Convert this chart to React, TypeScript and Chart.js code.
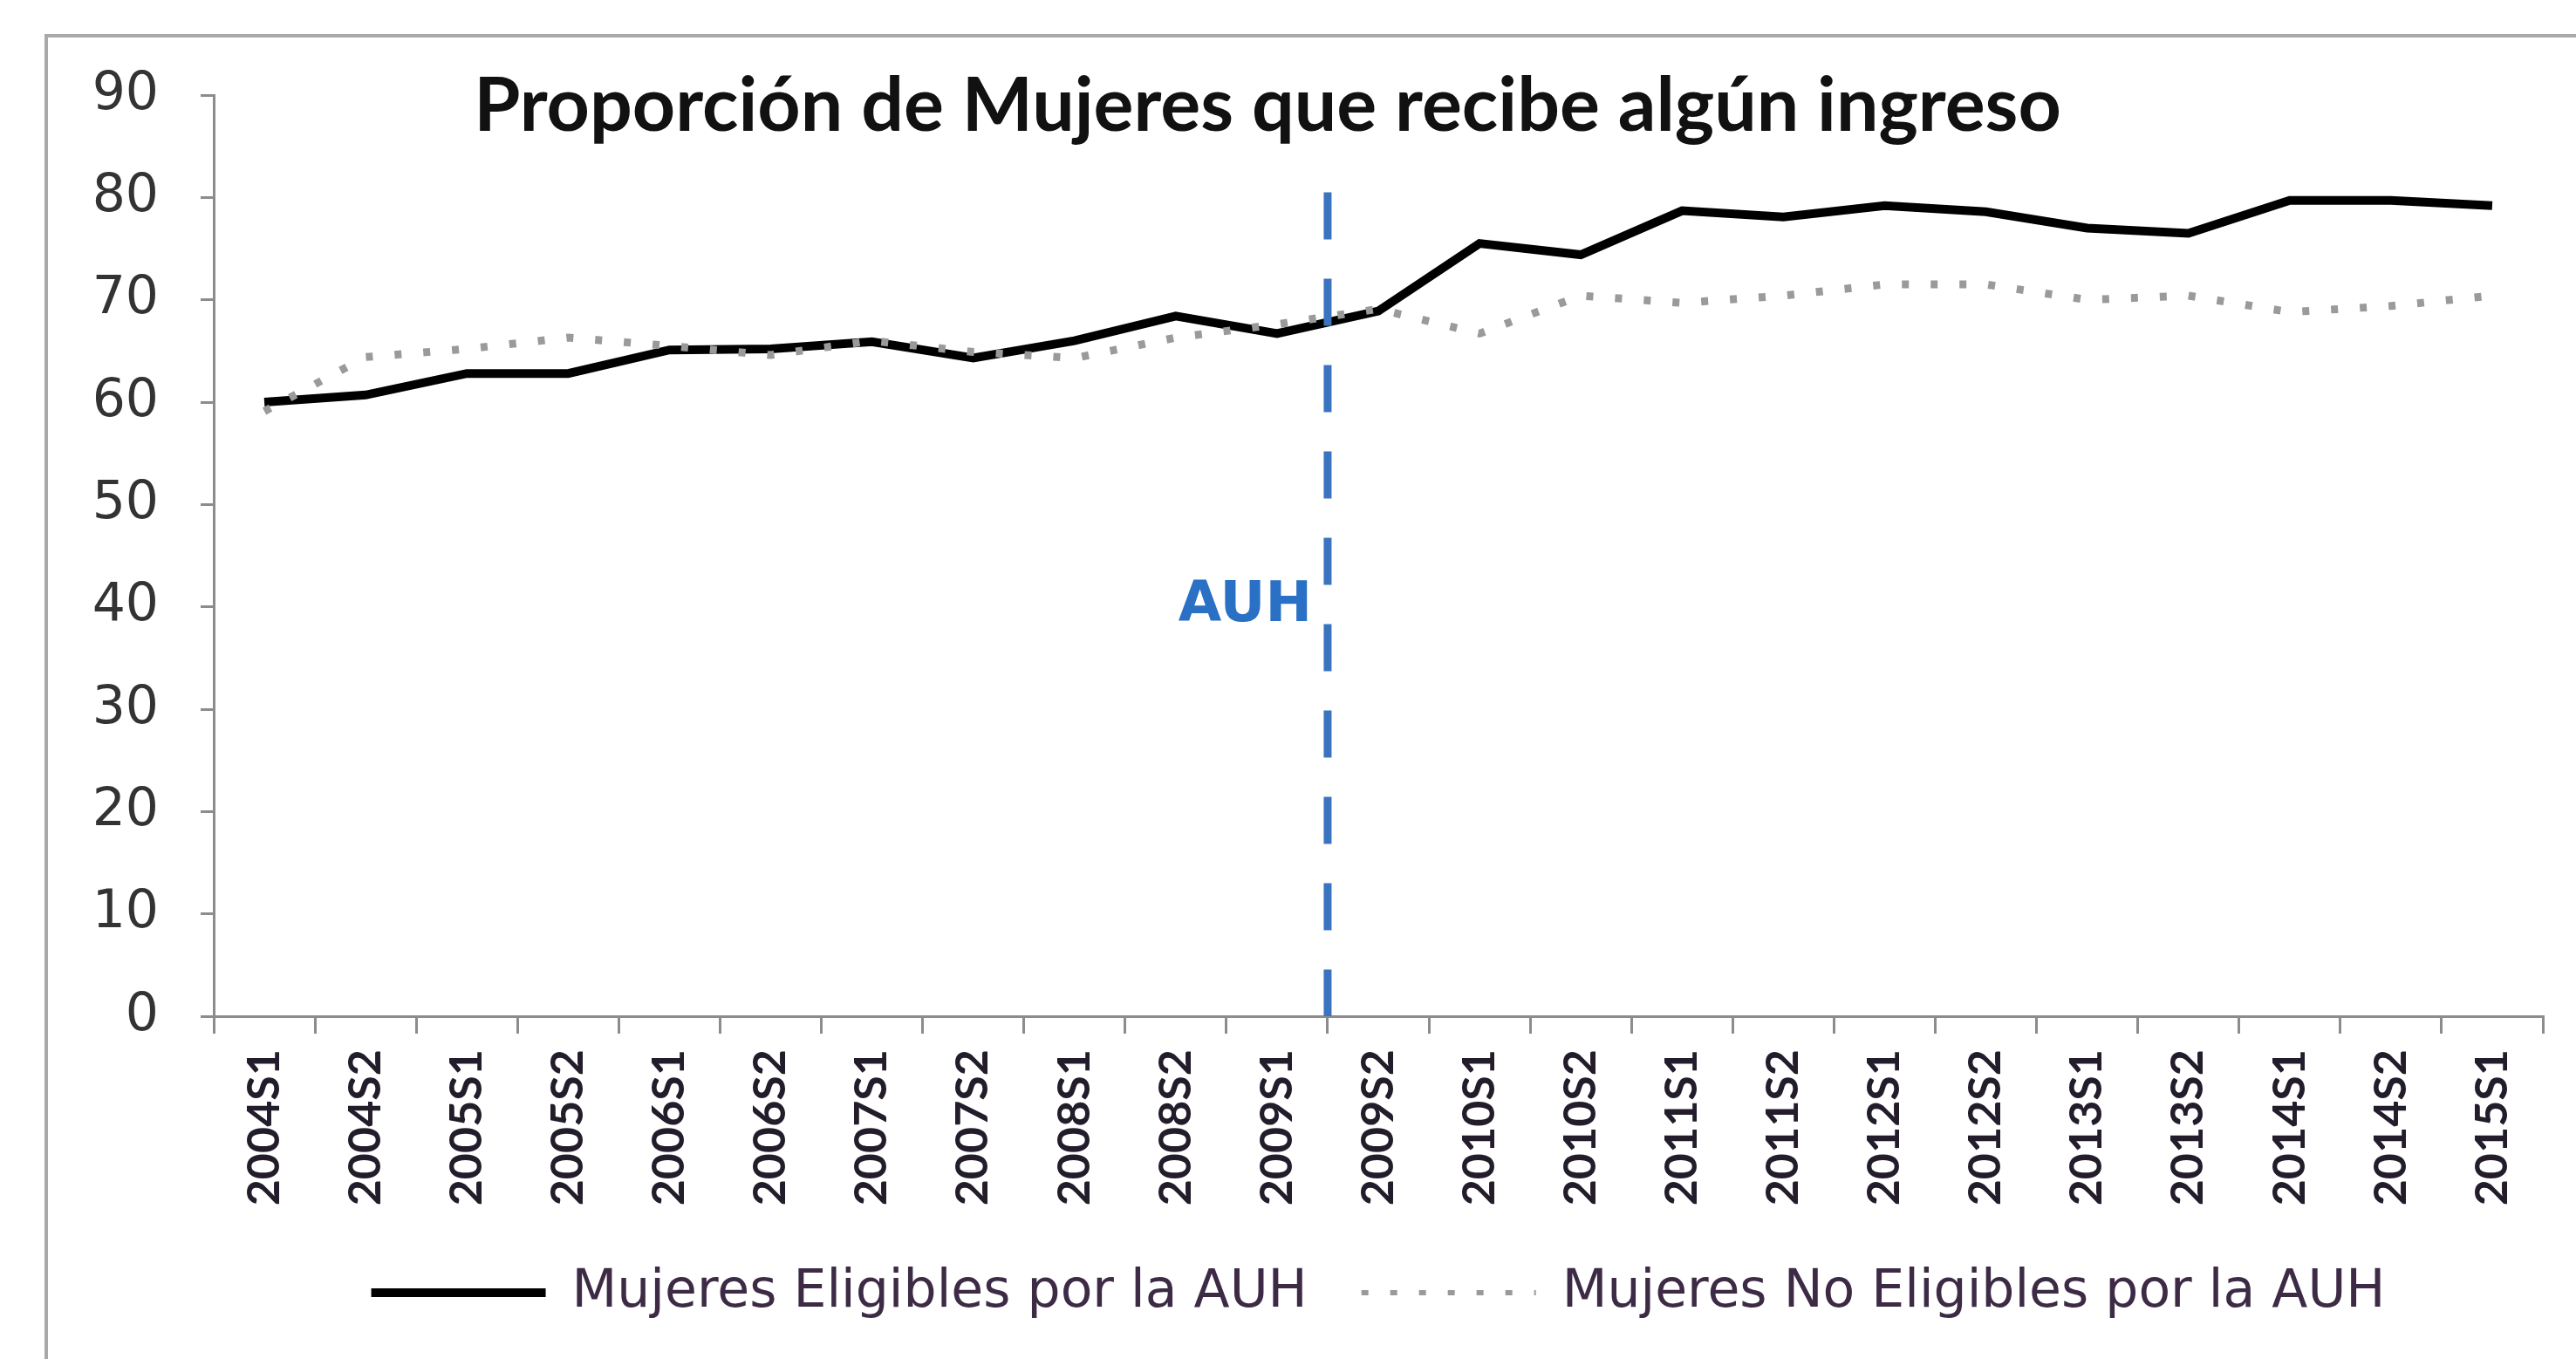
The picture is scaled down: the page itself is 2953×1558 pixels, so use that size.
import React, { useEffect, useRef } from "react";
import { Chart, registerables } from "chart.js";

Chart.register(...registerables);

const CATEGORIES = [
  "2004S1", "2004S2", "2005S1", "2005S2", "2006S1", "2006S2", "2007S1", "2007S2",
  "2008S1", "2008S2", "2009S1", "2009S2", "2010S1", "2010S2", "2011S1", "2011S2",
  "2012S1", "2012S2", "2013S1", "2013S2", "2014S1", "2014S2", "2015S1",
];
const ELIGIBLES = [
  60.0, 60.7, 62.8, 62.8, 65.1, 65.2, 65.9, 64.3, 66.0, 68.4, 66.7, 68.9,
  75.5, 74.4, 78.7, 78.1, 79.2, 78.6, 77.0, 76.5, 79.7, 79.7, 79.2,
];
const NO_ELIGIBLES = [
  59.1, 64.4, 65.2, 66.3, 65.5, 64.6, 66.0, 64.9, 64.3, 66.3, 67.6, 69.1,
  66.7, 70.4, 69.7, 70.4, 71.5, 71.5, 70.0, 70.4, 68.8, 69.4, 70.4,
];
const SERIES_LABELS = ["Mujeres Eligibles por la AUH", "Mujeres No Eligibles por la AUH"];
const Y_TICKS = [0, 10, 20, 30, 40, 50, 60, 70, 80, 90];
const TITLE = "Proporción de Mujeres que recibe algún ingreso";
const AUH_LABEL = "AUH";
const AUH_POSITION = 10.5; // between 2009S1 and 2009S2
const AUH_TOP = 80.5;
const AUH_LABEL_VALUE = 40;

const AXIS_COLOR = "#8c8c8c";
const DOT_DASH = [8, 25];
const LEGEND_LINE_WIDTHS = [10, 6];

const decorPlugin = {
  id: "decor",
  beforeDraw(chart: any) {
    const ctx = chart.ctx;
    ctx.save();
    ctx.fillStyle = "#ffffff";
    ctx.fillRect(0, 0, chart.width, chart.height);
    ctx.strokeStyle = "#a9a9a9";
    ctx.lineWidth = 4;
    ctx.strokeRect(53, 41, chart.width + 100, chart.height + 100);
    ctx.restore();
  },
  afterDatasetsDraw(chart: any) {
    const { ctx, scales } = chart;
    const x = scales.x;
    const y = scales.y;
    const px = x.getPixelForValue(AUH_POSITION);
    ctx.save();
    ctx.strokeStyle = "#3a74bf";
    ctx.lineWidth = 9;
    ctx.setLineDash([54, 45]);
    ctx.beginPath();
    ctx.moveTo(px, y.getPixelForValue(AUH_TOP));
    ctx.lineTo(px, y.getPixelForValue(0));
    ctx.stroke();
    ctx.setLineDash([]);
    ctx.fillStyle = "#2a70c4";
    ctx.font = 'bold 64px "DejaVu Sans"';
    ctx.textAlign = "right";
    ctx.textBaseline = "middle";
    ctx.fillText(AUH_LABEL, px - 18, y.getPixelForValue(AUH_LABEL_VALUE));
    ctx.fillStyle = "#111111";
    ctx.font = 'bold 86px Lato';
    ctx.textAlign = "center";
    ctx.fillText(TITLE, 1453, 122);
    ctx.restore();
  },
};

export default function App() {
  const canvasRef = useRef<HTMLCanvasElement | null>(null);

  useEffect(() => {
    const canvas = canvasRef.current;
    if (!canvas) return;
    const chart = new Chart(canvas, {
      type: "line",
      data: {
        labels: CATEGORIES,
        datasets: [
          {
            label: SERIES_LABELS[0],
            data: ELIGIBLES,
            borderColor: "#000000",
            backgroundColor: "#000000",
            borderWidth: 10,
            pointRadius: 0,
            tension: 0,
            order: 1,
          },
          {
            label: SERIES_LABELS[1],
            data: NO_ELIGIBLES,
            borderColor: "#9a9a9a",
            backgroundColor: "#9a9a9a",
            borderWidth: 9,
            borderDash: DOT_DASH,
            pointRadius: 0,
            tension: 0,
            order: 0,
          },
        ],
      },
      options: {
        animation: false,
        responsive: false,
        devicePixelRatio: 1,
        layout: { padding: { top: 109, right: 38, bottom: 36, left: 0 } },
        plugins: {
          title: { display: false },
          tooltip: { enabled: false },
          legend: {
            position: "bottom",
            fullSize: false,
            labels: {
              usePointStyle: true,
              pointStyle: "line",
              pointStyleWidth: 200,
              padding: 62,
              color: "#3d2b46",
              font: { family: "DejaVu Sans", size: 60 },
              sort: (a: any, b: any) => a.datasetIndex - b.datasetIndex,
              generateLabels: (c: any) =>
                Chart.defaults.plugins.legend.labels.generateLabels(c).map((item: any) => {
                  const ds: any = c.data.datasets[item.datasetIndex];
                  return {
                    ...item,
                    lineDash: ds.borderDash || [],
                    lineWidth: LEGEND_LINE_WIDTHS[item.datasetIndex],
                    strokeStyle: ds.borderColor,
                    lineCap: "butt",
                  };
                }),
            },
          },
        },
        scales: {
          x: {
            type: "category",
            offset: true,
            grid: {
              offset: true,
              drawOnChartArea: false,
              drawTicks: true,
              tickLength: 20,
              color: AXIS_COLOR,
              lineWidth: 3,
            },
            border: { display: true, color: AXIS_COLOR, width: 3 },
            ticks: {
              autoSkip: false,
              minRotation: 90,
              maxRotation: 90,
              padding: 18,
              color: "#231c2a",
              font: { family: "Lato", size: 52, weight: "bold" },
            },
            afterFit: (s: any) => {
              s.height = 225;
            },
          },
          y: {
            min: 0,
            max: 90,
            afterBuildTicks: (s: any) => {
              s.ticks = Y_TICKS.map((v) => ({ value: v }));
            },
            grid: {
              drawOnChartArea: false,
              drawTicks: true,
              tickLength: 15,
              color: AXIS_COLOR,
              lineWidth: 3,
            },
            border: { display: true, color: AXIS_COLOR, width: 3 },
            ticks: {
              padding: 48,
              color: "#333333",
              font: { family: "DejaVu Sans", size: 60 },
            },
            afterFit: (s: any) => {
              s.width = 245;
            },
          },
        },
      },
      plugins: [decorPlugin],
    });
    return () => chart.destroy();
  }, []);

  return (
    <div style={{ position: "absolute", left: 0, top: 0, width: 2953, height: 1558, background: "#fff" }}>
      <canvas ref={canvasRef} width={2953} height={1558} style={{ display: "block" }} />
    </div>
  );
}
